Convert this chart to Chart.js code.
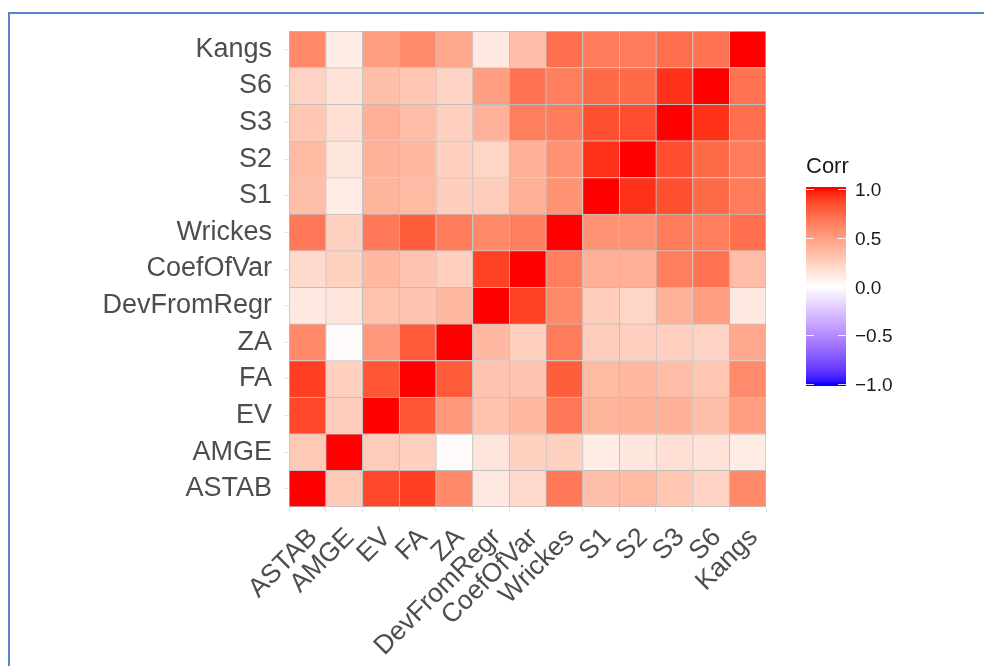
<!DOCTYPE html>
<html>
<head>
<meta charset="utf-8">
<script src="https://cdn.jsdelivr.net/npm/chart.js@4.4.1/dist/chart.umd.min.js"></script>
<style>
  html, body { margin: 0; padding: 0; background: #fff; }
  #wrap { position: relative; width: 984px; height: 666px; overflow: hidden; }
  #frame { position: absolute; left: 8px; top: 12px; width: 1000px; height: 700px;
           border-left: 2px solid #5a82d2; border-top: 2px solid #5a82d2; pointer-events: none; }
  canvas { position: absolute; left: 0; top: 0; }
</style>
</head>
<body>
<div id="wrap">
  <canvas id="heat" width="984" height="666"></canvas>
  <div id="frame"></div>
</div>
<script>
// variables, bottom row first (same order on both axes)
const vars = ['ASTAB', 'AMGE', 'EV', 'FA', 'ZA', 'DevFromRegr', 'CoefOfVar',
              'Wrickes', 'S1', 'S2', 'S3', 'S6', 'Kangs'];

// correlation matrix, one row per variable, columns in the order of vars
const corr = [
  [1.00, 0.28, 0.87, 0.90, 0.60, 0.12, 0.20, 0.68, 0.34, 0.36, 0.30, 0.23, 0.60], // ASTAB
  [0.28, 1.00, 0.27, 0.25, 0.02, 0.14, 0.24, 0.24, 0.10, 0.13, 0.17, 0.15, 0.10], // AMGE
  [0.87, 0.27, 1.00, 0.82, 0.53, 0.32, 0.37, 0.68, 0.39, 0.40, 0.41, 0.34, 0.50], // EV
  [0.90, 0.25, 0.82, 1.00, 0.80, 0.31, 0.31, 0.79, 0.36, 0.37, 0.35, 0.30, 0.59], // FA
  [0.60, 0.02, 0.53, 0.80, 1.00, 0.37, 0.25, 0.66, 0.26, 0.25, 0.25, 0.23, 0.45], // ZA
  [0.12, 0.14, 0.32, 0.31, 0.37, 1.00, 0.89, 0.60, 0.26, 0.22, 0.40, 0.50, 0.12], // DevFromRegr
  [0.20, 0.24, 0.37, 0.31, 0.25, 0.89, 1.00, 0.65, 0.41, 0.41, 0.65, 0.70, 0.35], // CoefOfVar
  [0.68, 0.24, 0.68, 0.79, 0.66, 0.60, 0.65, 1.00, 0.55, 0.56, 0.66, 0.65, 0.72], // Wrickes
  [0.34, 0.10, 0.39, 0.36, 0.26, 0.26, 0.41, 0.55, 1.00, 0.93, 0.84, 0.74, 0.66], // S1
  [0.36, 0.13, 0.40, 0.37, 0.25, 0.22, 0.41, 0.56, 0.93, 1.00, 0.85, 0.74, 0.66], // S2
  [0.30, 0.17, 0.41, 0.35, 0.25, 0.40, 0.65, 0.66, 0.84, 0.85, 1.00, 0.93, 0.72], // S3
  [0.23, 0.15, 0.34, 0.30, 0.23, 0.50, 0.70, 0.65, 0.74, 0.74, 0.93, 1.00, 0.70], // S6
  [0.60, 0.10, 0.50, 0.59, 0.45, 0.12, 0.35, 0.72, 0.66, 0.66, 0.72, 0.70, 1.00]  // Kangs
];

// colour bar ticks
const legendTicks = [1.0, 0.5, 0.0, -0.5, -1.0];
const legendTitle = 'Corr';

// --- colour scale: blue (-1) -> white (0) -> red (1), interpolated in Lab like ggplot
function toLin(c) { c /= 255; return c <= 0.04045 ? c / 12.92 : Math.pow((c + 0.055) / 1.055, 2.4); }
function fromLin(c) {
  c = c <= 0.0031308 ? 12.92 * c : 1.055 * Math.pow(c, 1 / 2.4) - 0.055;
  return Math.round(Math.min(1, Math.max(0, c)) * 255);
}
function rgb2lab(rgb) {
  const r = toLin(rgb[0]), g = toLin(rgb[1]), b = toLin(rgb[2]);
  let x = (0.4124 * r + 0.3576 * g + 0.1805 * b) / 0.95047;
  let y = (0.2126 * r + 0.7152 * g + 0.0722 * b);
  let z = (0.0193 * r + 0.1192 * g + 0.9505 * b) / 1.08883;
  const f = t => t > 0.008856 ? Math.cbrt(t) : 7.787 * t + 16 / 116;
  x = f(x); y = f(y); z = f(z);
  return [116 * y - 16, 500 * (x - y), 200 * (y - z)];
}
function lab2rgb(lab) {
  const fy = (lab[0] + 16) / 116, fx = fy + lab[1] / 500, fz = fy - lab[2] / 200;
  const inv = t => t * t * t > 0.008856 ? t * t * t : (t - 16 / 116) / 7.787;
  const x = inv(fx) * 0.95047, y = inv(fy), z = inv(fz) * 1.08883;
  const r = 3.2406 * x - 1.5372 * y - 0.4986 * z;
  const g = -0.9689 * x + 1.8758 * y + 0.0415 * z;
  const b = 0.0557 * x - 0.2040 * y + 1.0570 * z;
  return 'rgb(' + fromLin(r) + ',' + fromLin(g) + ',' + fromLin(b) + ')';
}
const labRed = rgb2lab([255, 0, 0]), labWhite = rgb2lab([255, 255, 255]), labBlue = rgb2lab([0, 0, 255]);
function corrColor(v) {
  const end = v >= 0 ? labRed : labBlue;
  const t = Math.min(1, Math.abs(v));
  return lab2rgb(labWhite.map((w, k) => w + (end[k] - w) * t));
}

const textGrey = '#4d4d4d';
const font = "'Liberation Sans', Arial, sans-serif";

// one floating-bar dataset per row; each bar spans its row index +/- 0.5
const datasets = vars.map((rowName, i) => ({
  label: rowName,
  data: vars.map(() => [i - 0.5, i + 0.5]),
  backgroundColor: corr[i].map(corrColor),
  borderColor: '#bebebe',
  borderWidth: ctx => ({ top: 1, left: 1, right: ctx.dataIndex === vars.length - 1 ? 1 : 0, bottom: i === 0 ? 1 : 0 }),
  borderSkipped: false,
  categoryPercentage: 1,
  barPercentage: 1,
  grouped: false
}));

// draws the colour bar legend to the right of the panel
const colorBar = {
  id: 'colorBar',
  afterDraw(chart) {
    const ctx = chart.ctx;
    const x0 = 806, w = 40, top = 187, bottom = 386;
    const yTop = 189, yBot = 384;              // positions of +1 and -1
    const yOf = v => yTop + (1 - v) / 2 * (yBot - yTop);
    ctx.save();
    for (let y = top; y < bottom; y++) {
      const v = 1 - (y + 0.5 - yTop) / (yBot - yTop) * 2;
      ctx.fillStyle = corrColor(Math.max(-1, Math.min(1, v)));
      ctx.fillRect(x0, y, w, 1);
    }
    ctx.strokeStyle = 'rgba(255,255,255,0.85)';
    ctx.lineWidth = 1;
    ctx.fillStyle = '#1a1a1a';
    ctx.font = '19px ' + font;
    ctx.textBaseline = 'middle';
    ctx.textAlign = 'left';
    legendTicks.forEach(v => {
      const y = Math.round(yOf(v)) + 0.5;
      ctx.beginPath();
      ctx.moveTo(x0, y); ctx.lineTo(x0 + 8, y);
      ctx.moveTo(x0 + w - 8, y); ctx.lineTo(x0 + w, y);
      ctx.stroke();
      const txt = (v < 0 ? '\u2212' : '') + Math.abs(v).toFixed(1);
      ctx.fillText(txt, 855, y + 1);
    });
    ctx.font = '22px ' + font;
    ctx.textBaseline = 'alphabetic';
    ctx.fillText(legendTitle, 806, 173);
    ctx.restore();
  }
};

new Chart(document.getElementById('heat'), {
  type: 'bar',
  data: { labels: vars, datasets: datasets },
  options: {
    responsive: false,
    animation: false,
    layout: { padding: { top: 31, right: 218, left: 0, bottom: 0 } },
    plugins: {
      legend: { display: false },
      tooltip: {
        callbacks: {
          title: items => '',
          label: item => vars[item.dataIndex] + ' / ' + vars[item.datasetIndex] + ': ' +
            corr[item.datasetIndex][item.dataIndex].toFixed(2)
        }
      }
    },
    scales: {
      x: {
        type: 'category',
        offset: true,
        border: { display: false },
        grid: { drawOnChartArea: false, drawTicks: true, tickLength: 5, color: '#e3e3e3' },
        ticks: { color: textGrey, font: { family: font, size: 26.5 }, minRotation: 45, maxRotation: 45,
                 autoSkip: false, padding: 10, labelOffset: 6 },
        afterFit: scale => { scale.height = 159; }
      },
      y: {
        type: 'linear',
        min: -0.5,
        max: vars.length - 0.5,
        border: { display: false },
        grid: { drawOnChartArea: false, drawTicks: true, tickLength: 5, color: '#e3e3e3' },
        afterBuildTicks: scale => { scale.ticks = vars.map((_, i) => ({ value: i })); },
        ticks: { color: textGrey, font: { family: font, size: 27 }, padding: 12,
                 callback: value => vars[value] },
        afterFit: scale => { scale.width = 289; }
      }
    }
  },
  plugins: [colorBar]
});
</script>
</body>
</html>
